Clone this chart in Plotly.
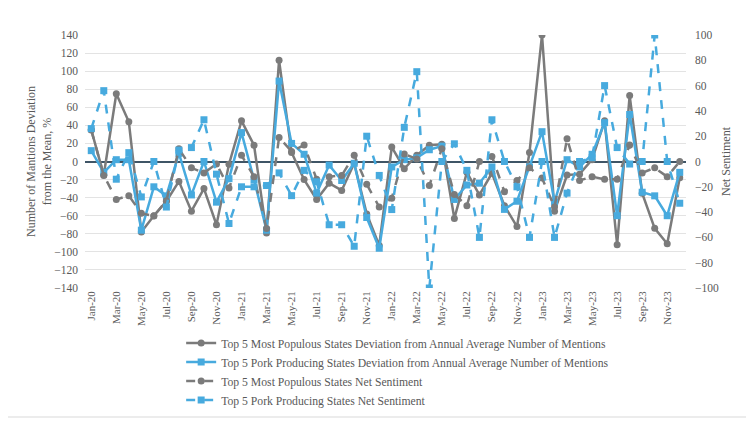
import plotly.graph_objects as go

months = [f"{m}-{y}" for y in ["20", "21", "22", "23"]
          for m in ["Jan", "Feb", "Mar", "Apr", "May", "Jun", "Jul", "Aug", "Sep", "Oct", "Nov", "Dec"]]
tick_labels = months[::2]

populous_dev = [35, -15, 75, 44, -78, -60, -44, -22, -55, -30, -70, -3,
                45, 18, -79, 112, 10, -20, -42, -24, -32, -2, -58, -93,
                16, -8, 7, 18, 19, -63, -12, -37, -13, -49, -72, 10,
                140, -55, -15, -14, 2, 45, -92, 73, -35, -74, -91, -18]

pork_dev = [12, -12, 2, 2, -76, -28, -38, 9, -37, 0, -45, -19,
            32, -20, -76, 89, 20, 8, -35, -4, -21, -2, -62, -96,
            -6, 2, 4, 13, 17, -42, -26, -24, -6, -53, -44, -6,
            33, -45, 2, -6, 8, 43, -60, 52, -34, -38, -60, -12]

populous_sent = [25, -11, -30, -27, -41, -43, -31, 10, -5, -9, -2, -21,
                 5, -12, -53, 19, 8, 13, -14, -12, -11, 5, -18, -36,
                 -29, 6, 2, -19, 10, -26, -35, 0, 4, -24, -15, -5,
                 -13, -36, 18, -15, -12, -14, -14, 13, -9, -5, -12, 0]

pork_sent = [26, 56, -14, 7, -28, 0, -36, 9, 11, 33, -10, -49,
             -20, -20, -19, -9, -27, -7, -16, -50, -50, -67, 20, -11,
             -38, 27, 71, -100, 0, 14, -7, -60, 33, 0, -20, -60,
             0, -60, -25, 0, 3, 60, 11, -2, 0, 100, 0, -33]

names = [
    "Top 5 Most Populous States Deviation from Annual Average Number of Mentions",
    "Top 5 Pork Producing States Deviation from Annual Average Number of Mentions",
    "Top 5 Most Populous States Net Sentiment",
    "Top 5 Pork Producing States Net Sentiment",
]

GRAY = "#7b7b7b"
BLUE = "#47aade"
FONT = "'Liberation Serif', 'Times New Roman', serif"
TXT = "#595959"

# page body has an 8px default margin; offset the layout to compensate
OFF = 8
L, T = 85 - OFF, 35 - OFF
PW, PH = 601, 253
W, H = 754, 423
R = W - L - PW
B = H - T - PH

fig = go.Figure()
fig.add_trace(go.Scatter(x=months, y=populous_dev, name=names[0], mode="lines+markers",
                         line=dict(color=GRAY, width=2.5), marker=dict(symbol="circle", size=7, color=GRAY)))
fig.add_trace(go.Scatter(x=months, y=pork_dev, name=names[1], mode="lines+markers",
                         line=dict(color=BLUE, width=2.5), marker=dict(symbol="square", size=7, color=BLUE)))
fig.add_trace(go.Scatter(x=months, y=populous_sent, name=names[2], mode="lines+markers", yaxis="y2",
                         line=dict(color=GRAY, width=2.5, dash="dash"), marker=dict(symbol="circle", size=7, color=GRAY)))
fig.add_trace(go.Scatter(x=months, y=pork_sent, name=names[3], mode="lines+markers", yaxis="y2",
                         line=dict(color=BLUE, width=2.5, dash="dash"), marker=dict(symbol="square", size=7, color=BLUE)))

fig.update_layout(
    width=W, height=H,
    margin=dict(l=L, r=R, t=T, b=B, autoexpand=False),
    paper_bgcolor="white", plot_bgcolor="white",
    font=dict(family=FONT, size=11, color=TXT),
    showlegend=True,
    legend=dict(x=0.16, y=-0.16, xanchor="left", yanchor="top", orientation="v",
                font=dict(family=FONT, size=11.7, color=TXT), tracegroupgap=0,
                bgcolor="rgba(0,0,0,0)"),
    xaxis=dict(type="category", range=[-0.5, 47.5], tickmode="array", tickvals=tick_labels,
               ticktext=tick_labels, tickangle=-90, showgrid=False, zeroline=False, automargin=False,
               showline=False, ticks="", tickfont=dict(family=FONT, size=11, color=TXT)),
    yaxis=dict(range=[-140, 140], dtick=20, tick0=0, showgrid=True, gridcolor="#e3e3e3", gridwidth=1,
               zeroline=True, zerolinecolor="#3f5566", zerolinewidth=1.5, showline=False, automargin=False,
               ticklabelstandoff=6, tickfont=dict(family=FONT, size=11.5, color=TXT),
               title=dict(text="Number of Mantions Deviation<br>from the Mean, %",
                          font=dict(family=FONT, size=12, color=TXT), standoff=0)),
    yaxis2=dict(range=[-100, 100], dtick=20, tick0=0, overlaying="y", side="right", automargin=False,
                showgrid=False, zeroline=False, showline=False, ticklabelstandoff=8,
                tickfont=dict(family=FONT, size=11.5, color=TXT),
                title=dict(text="Net Sentiment", font=dict(family=FONT, size=12, color=TXT), standoff=3)),
    shapes=[dict(type="rect", xref="paper", yref="paper",
                 x0=(-3 - L) / PW, x1=(740 - L) / PW,
                 y0=(T + PH - 409) / PH, y1=(T + PH + 3) / PH,
                 line=dict(color="#d9d9d9", width=1), fillcolor="rgba(0,0,0,0)", layer="below")],
)

fig.write_html("out.html")
